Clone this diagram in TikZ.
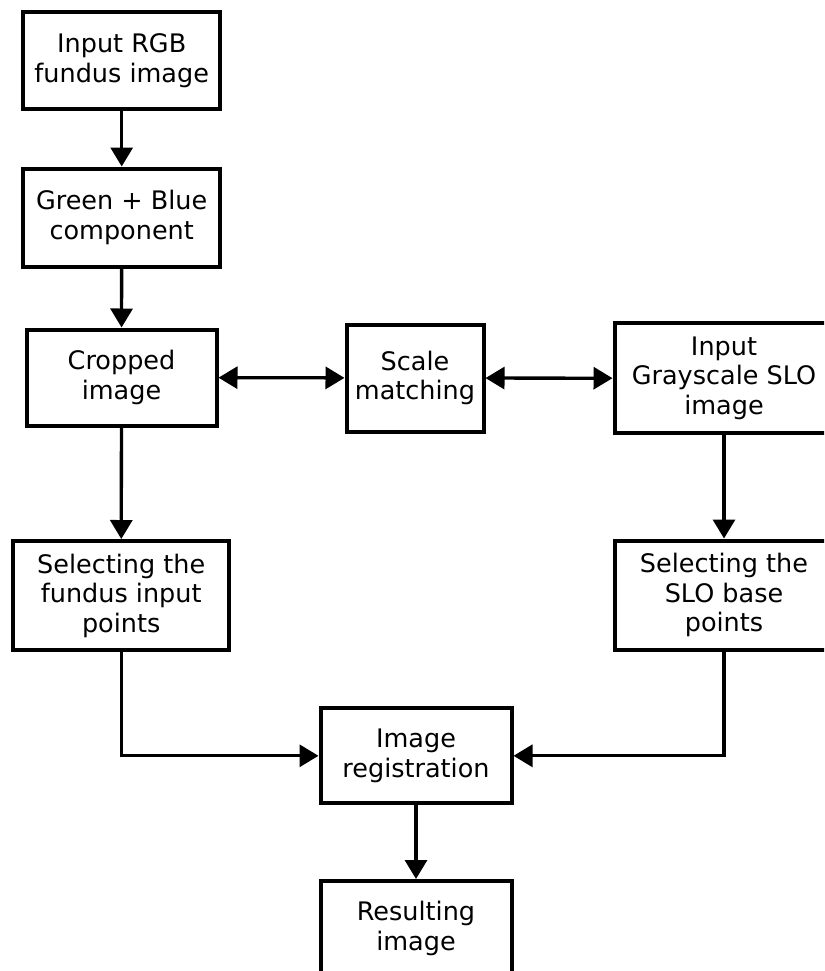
\documentclass[tikz,border=0pt]{standalone}
\usepackage{fontspec}
\setmainfont{DejaVu Sans}
\usetikzlibrary{arrows.meta}
\begin{document}
\begin{tikzpicture}[x=1pt,y=-1pt,
  box/.style={draw=black, line width=4pt, fill=white, align=center, inner sep=0pt,
    font=\fontsize{25.5}{29.5}\selectfont},
  tip/.tip={Triangle[width=22pt,length=19pt]},
  conn/.style={line width=3.3pt, -tip},
  dconn/.style={line width=3.3pt, tip-tip}
]
\useasboundingbox (0,0) rectangle (824,971);
\clip (0,0) rectangle (824,971);
\fill[white] (0,0) rectangle (824,971);
\node[box, minimum width=197pt, minimum height=97pt] (n1) at (121.7,60.5) {Input RGB\\fundus image};
\node[box, minimum width=197pt, minimum height=98pt] (n2) at (121.7,217.5) {Green + Blue\\component};
\node[box, minimum width=190pt, minimum height=96pt] (n3) at (121.5,377.5) {Cropped\\image};
\node[box, minimum width=137pt, minimum height=107pt] (n4) at (415,378) {Scale\\matching};
\node[box, minimum width=219pt, minimum height=110pt] (n5) at (724,378.3) {Input\\Grayscale SLO\\image};
\node[box, minimum width=216pt, minimum height=109pt] (n6) at (121.2,595.5) {Selecting the\\fundus input\\points};
\node[box, minimum width=219pt, minimum height=109pt] (n7) at (724,595) {Selecting the\\SLO base\\points};
\node[box, minimum width=191pt, minimum height=95pt] (n8) at (416,755.8) {Image\\registration};
\node[box, minimum width=191pt, minimum height=95pt] (n9) at (416,928.5) {Resulting\\image};
\draw[conn] (n1) -- (n2);
\draw[conn] (n2) -- (n3);
\draw[dconn] (n3) -- (n4);
\draw[dconn] (n4) -- (n5);
\draw[conn] (n3) -- (n6);
\draw[conn] (n5) -- (n7);
\draw[conn] (n6.south) |- (n8.west);
\draw[conn] (n7.south) |- (n8.east);
\draw[conn] (n8) -- (n9);
\end{tikzpicture}
\end{document}
